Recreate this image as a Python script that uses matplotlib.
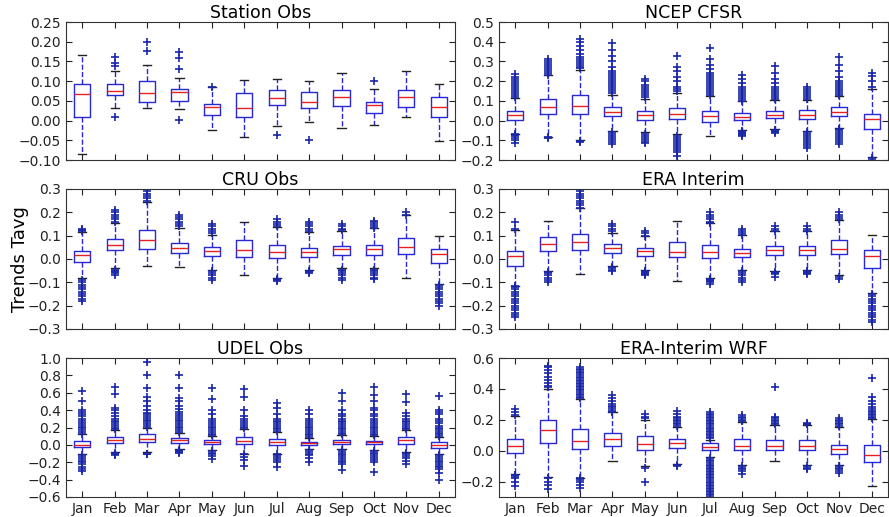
import numpy as np
import matplotlib
matplotlib.use('Agg')
from matplotlib import pyplot as plt

months = ['Jan', 'Feb', 'Mar', 'Apr', 'May', 'Jun', 'Jul', 'Aug', 'Sep', 'Oct', 'Nov', 'Dec']

# Station Obs
station_med = [0.067, 0.076, 0.071, 0.073, 0.035, 0.031, 0.056, 0.047, 0.059, 0.039, 0.059, 0.035]
station_q1 = [0.008, 0.064, 0.048, 0.050, 0.014, 0.008, 0.039, 0.031, 0.036, 0.018, 0.034, 0.010]
station_q3 = [0.093, 0.092, 0.100, 0.081, 0.043, 0.069, 0.077, 0.073, 0.078, 0.047, 0.078, 0.059]
station_lo = [-0.086, 0.031, 0.031, 0.029, -0.024, -0.042, -0.013, -0.003, -0.019, -0.011, 0.009, -0.052]
station_hi = [0.166, 0.126, 0.141, 0.108, 0.084, 0.103, 0.105, 0.100, 0.121, 0.080, 0.125, 0.094]
station_fl = [[], [0.162, 0.145, 0.139, 0.008], [0.2, 0.177], [0.175, 0.158, 0.13, 0.002],
              [0.086], [], [-0.036], [-0.049], [], [0.1], [], []]

# NCEP CFSR
ncep_med = [0.029, 0.067, 0.072, 0.044, 0.027, 0.035, 0.022, 0.020, 0.030, 0.030, 0.044, 0.008]
ncep_q1 = [0.005, 0.034, 0.034, 0.022, 0.005, 0.008, -0.008, 0.005, 0.013, 0.008, 0.022, -0.045]
ncep_q3 = [0.050, 0.110, 0.128, 0.067, 0.047, 0.064, 0.047, 0.039, 0.049, 0.052, 0.069, 0.035]
ncep_lo = [-0.066, -0.082, -0.100, -0.054, -0.060, -0.070, -0.079, -0.050, -0.042, -0.054, -0.037, -0.185]
ncep_hi = [0.114, 0.230, 0.258, 0.130, 0.110, 0.140, 0.123, 0.098, 0.106, 0.106, 0.123, 0.160]
ncep_fl = [
    [0.12, 0.13, 0.14, 0.15, 0.16, 0.17, 0.18, 0.19, 0.20, 0.21, 0.22, 0.235,
     -0.07, -0.075, -0.08, -0.09, -0.1, -0.115],
    [0.23, 0.24, 0.25, 0.26, 0.27, 0.28, 0.29, 0.30, 0.31, -0.085, -0.09],
    [0.265, 0.27, 0.28, 0.29, 0.30, 0.31, 0.32, 0.34, 0.36, 0.38, 0.40, 0.415, -0.105, -0.11],
    [0.14, 0.15, 0.16, 0.17, 0.18, 0.19, 0.20, 0.21, 0.22, 0.23, 0.24, 0.25, 0.27, 0.30, 0.33,
     0.36, 0.395, -0.06, -0.07, -0.08, -0.09, -0.1, -0.11, -0.12],
    [0.12, 0.13, 0.14, 0.15, 0.16, 0.17, 0.18, 0.20, 0.21, -0.07, -0.08, -0.09, -0.1, -0.11, -0.115],
    [0.15, 0.16, 0.17, 0.20, 0.22, 0.25, 0.27, 0.33, -0.08, -0.09, -0.1, -0.11, -0.12, -0.13,
     -0.14, -0.15, -0.16, -0.18],
    [0.13, 0.14, 0.15, 0.16, 0.17, 0.18, 0.19, 0.20, 0.21, 0.22, 0.23, 0.24, 0.26, 0.28, 0.31, 0.37],
    [0.10, 0.11, 0.12, 0.13, 0.14, 0.15, 0.16, 0.17, 0.19, 0.21, 0.23,
     -0.055, -0.06, -0.065, -0.07, -0.075, -0.08],
    [0.11, 0.12, 0.13, 0.14, 0.15, 0.16, 0.17, 0.19, 0.21, 0.24, 0.275, -0.05, -0.055, -0.06, -0.065],
    [0.11, 0.12, 0.13, 0.14, 0.15, 0.16, 0.17, -0.06, -0.07, -0.08, -0.09, -0.1, -0.11, -0.12,
     -0.13, -0.14],
    [0.13, 0.14, 0.15, 0.16, 0.17, 0.18, 0.19, 0.20, 0.22, 0.25, 0.28, 0.32,
     -0.045, -0.05, -0.06, -0.07, -0.08, -0.09, -0.1, -0.11, -0.12],
    [0.17, 0.2, 0.225, 0.24, -0.19, -0.2],
]

# CRU Obs
cru_med = [0.017, 0.060, 0.081, 0.049, 0.036, 0.039, 0.031, 0.030, 0.041, 0.041, 0.050, 0.020]
cru_q1 = [-0.011, 0.039, 0.041, 0.024, 0.013, 0.010, 0.006, 0.010, 0.017, 0.017, 0.020, -0.016]
cru_q3 = [0.036, 0.084, 0.124, 0.070, 0.053, 0.081, 0.060, 0.049, 0.057, 0.060, 0.089, 0.041]
cru_lo = [-0.083, -0.040, -0.030, -0.033, -0.047, -0.069, -0.083, -0.047, -0.040, -0.040, -0.083, -0.107]
cru_hi = [0.117, 0.153, 0.245, 0.131, 0.103, 0.160, 0.139, 0.117, 0.121, 0.131, 0.189, 0.100]
cru_fl = [
    [0.12, 0.125, 0.13, -0.09, -0.1, -0.11, -0.12, -0.13, -0.14, -0.15, -0.16, -0.17, -0.18],
    [0.16, 0.17, 0.18, 0.19, 0.20, 0.21, -0.045, -0.05, -0.055, -0.06, -0.07],
    [0.25, 0.26, 0.27, 0.28, 0.29, 0.30],
    [0.14, 0.15, 0.16, 0.17, 0.18, 0.19],
    [0.11, 0.12, 0.13, 0.14, 0.15, -0.05, -0.06, -0.07, -0.08, -0.09],
    [],
    [0.14, 0.15, 0.16, 0.17, -0.085, -0.09, -0.095],
    [0.12, 0.13, 0.14, 0.15, 0.16, -0.05, -0.055, -0.06],
    [0.125, 0.13, 0.14, 0.15, -0.045, -0.05, -0.06, -0.07, -0.08, -0.09],
    [0.135, 0.14, 0.15, 0.16, 0.165, -0.045, -0.05, -0.06, -0.07, -0.08, -0.085],
    [0.19, 0.2],
    [-0.11, -0.12, -0.13, -0.14, -0.15, -0.16, -0.17, -0.18, -0.19, -0.2],
]

# ERA Interim
era_med = [0.014, 0.064, 0.071, 0.046, 0.033, 0.029, 0.029, 0.026, 0.040, 0.037, 0.043, 0.014]
era_q1 = [-0.029, 0.033, 0.037, 0.026, 0.011, 0.007, 0.004, 0.009, 0.016, 0.016, 0.021, -0.039]
era_q3 = [0.036, 0.093, 0.109, 0.064, 0.047, 0.071, 0.061, 0.044, 0.057, 0.057, 0.083, 0.040]
era_lo = [-0.114, -0.053, -0.064, -0.031, -0.046, -0.096, -0.081, -0.046, -0.053, -0.046, -0.067, -0.146]
era_hi = [0.126, 0.161, 0.219, 0.111, 0.097, 0.161, 0.154, 0.104, 0.119, 0.119, 0.169, 0.104]
era_fl = [
    [0.13, 0.16, -0.115, -0.12, -0.13, -0.14, -0.15, -0.16, -0.17, -0.18, -0.19, -0.2, -0.21,
     -0.22, -0.23, -0.24, -0.25],
    [-0.055, -0.06, -0.07, -0.08, -0.09, -0.1],
    [0.22, 0.23, 0.24, 0.25, 0.26, 0.27, 0.28, 0.29, 0.30],
    [0.12, 0.13, 0.14, 0.15, -0.035, -0.04, -0.045, -0.05],
    [0.10, 0.11, 0.12, -0.05, -0.055, -0.06, -0.065, -0.07],
    [],
    [0.155, 0.16, 0.17, 0.18, 0.19, 0.2, -0.085, -0.09, -0.095, -0.1, -0.105],
    [0.105, 0.11, 0.12, 0.13, -0.05, -0.06, -0.07, -0.08, -0.09, -0.1],
    [0.12, 0.13, 0.14, -0.055, -0.06, -0.065, -0.075],
    [0.12, 0.13, 0.14, -0.05, -0.055, -0.06, -0.065],
    [0.17, 0.18, 0.19, 0.2, -0.075, -0.085],
    [-0.15, -0.16, -0.17, -0.18, -0.19, -0.2, -0.21, -0.22, -0.23, -0.24, -0.25, -0.26, -0.27],
]

# UDEL Obs
udel_med = [0.000, 0.054, 0.073, 0.054, 0.038, 0.046, 0.035, 0.023, 0.035, 0.031, 0.054, 0.000]
udel_q1 = [-0.030, 0.023, 0.035, 0.023, 0.012, 0.015, 0.000, 0.004, 0.012, 0.012, 0.015, -0.038]
udel_q3 = [0.042, 0.085, 0.120, 0.080, 0.058, 0.088, 0.065, 0.038, 0.054, 0.050, 0.085, 0.038]
udel_lo = [-0.11, -0.085, -0.08, -0.05, -0.06, -0.10, -0.10, -0.05, -0.05, -0.06, -0.08, -0.11]
udel_hi = [0.12, 0.17, 0.20, 0.14, 0.10, 0.18, 0.15, 0.08, 0.11, 0.10, 0.17, 0.09]
udel_fl = [
    [0.13, 0.15, 0.17, 0.19, 0.21, 0.23, 0.25, 0.27, 0.3, 0.33, 0.36, 0.38, 0.4, 0.51, 0.62,
     -0.12, -0.14, -0.16, -0.18, -0.2, -0.22, -0.25, -0.28, -0.3],
    [0.18, 0.2, 0.22, 0.24, 0.26, 0.28, 0.3, 0.33, 0.37, 0.4, 0.43, 0.58, 0.67, -0.09, -0.1, -0.12],
    [0.21, 0.23, 0.25, 0.27, 0.29, 0.31, 0.33, 0.35, 0.37, 0.4, 0.45, 0.5, 0.55, 0.65, 0.8, 0.95,
     -0.1, -0.11],
    [0.15, 0.17, 0.19, 0.21, 0.23, 0.25, 0.27, 0.29, 0.31, 0.33, 0.35, 0.38, 0.41, 0.45, 0.5,
     0.54, 0.65, 0.8, -0.06, -0.07, -0.08, -0.09],
    [0.11, 0.13, 0.15, 0.17, 0.19, 0.21, 0.23, 0.25, 0.28, 0.3, 0.35, 0.4, 0.53, 0.66,
     -0.07, -0.09, -0.11, -0.13, -0.16],
    [0.19, 0.21, 0.23, 0.25, 0.27, 0.3, 0.33, 0.4, 0.55, 0.64, -0.11, -0.14, -0.17, -0.24],
    [0.16, 0.18, 0.2, 0.22, 0.24, 0.26, 0.28, 0.3, 0.35, 0.42, 0.48,
     -0.11, -0.13, -0.15, -0.17, -0.2, -0.25],
    [0.09, 0.11, 0.13, 0.15, 0.17, 0.19, 0.21, 0.23, 0.25, 0.27, 0.3, 0.35, 0.4,
     -0.06, -0.08, -0.1, -0.12, -0.15, -0.2],
    [0.12, 0.14, 0.16, 0.18, 0.2, 0.22, 0.24, 0.26, 0.28, 0.3, 0.33, 0.35, 0.4, 0.5, 0.6,
     -0.06, -0.08, -0.1, -0.12, -0.14, -0.16, -0.18, -0.2, -0.22, -0.29],
    [0.11, 0.13, 0.15, 0.17, 0.19, 0.21, 0.23, 0.25, 0.27, 0.3, 0.33, 0.36, 0.4, 0.42, 0.5, 0.57,
     0.67, -0.07, -0.09, -0.11, -0.13, -0.15, -0.17, -0.2, -0.31],
    [0.18, 0.2, 0.22, 0.24, 0.26, 0.28, 0.3, 0.33, 0.37, 0.49, 0.59,
     -0.09, -0.11, -0.13, -0.15, -0.18, -0.22],
    [0.1, 0.12, 0.14, 0.16, 0.18, 0.2, 0.22, 0.25, 0.28, 0.3, 0.35, 0.38, 0.4, 0.56,
     -0.12, -0.14, -0.16, -0.18, -0.2, -0.22, -0.24, -0.26, -0.28, -0.32, -0.4],
]

# ERA-Interim WRF
wrf_med = [0.030, 0.132, 0.065, 0.078, 0.041, 0.052, 0.026, 0.030, 0.030, 0.028, 0.011, -0.030]
wrf_q1 = [-0.015, 0.052, 0.009, 0.028, 0.002, 0.017, 0.002, 0.002, 0.006, 0.002, -0.019, -0.074]
wrf_q3 = [0.078, 0.197, 0.138, 0.115, 0.093, 0.074, 0.048, 0.074, 0.067, 0.067, 0.035, 0.039]
wrf_lo = [-0.149, -0.171, -0.177, -0.067, -0.102, -0.084, -0.040, -0.091, -0.069, -0.095, -0.095, -0.229]
wrf_hi = [0.223, 0.402, 0.333, 0.249, 0.200, 0.154, 0.070, 0.186, 0.164, 0.164, 0.154, 0.208]
wrf_fl = [
    [0.23, 0.25, 0.27, -0.155, -0.16, -0.17, -0.18, -0.2, -0.23],
    [0.41, 0.42, 0.44, 0.46, 0.48, 0.5, 0.52, 0.54, 0.55, -0.18, -0.2, -0.22, -0.25],
    [0.34, 0.35, 0.36, 0.37, 0.38, 0.39, 0.4, 0.41, 0.42, 0.43, 0.44, 0.45, 0.46, 0.47, 0.48,
     0.49, 0.5, 0.51, 0.52, 0.53, 0.54, -0.18, -0.19, -0.2, -0.22, -0.24],
    [0.25, 0.26, 0.27, 0.28, 0.29, 0.3, 0.32, 0.34, 0.36],
    [0.21, 0.22, 0.24, -0.11, -0.2],
    [0.16, 0.17, 0.18, 0.19, 0.2, 0.21, 0.22, 0.24, 0.26, -0.09, -0.1],
    [0.08, 0.09, 0.1, 0.11, 0.12, 0.13, 0.14, 0.15, 0.16, 0.17, 0.18, 0.19, 0.2, 0.21, 0.22,
     0.23, 0.24, 0.25, -0.05, -0.06, -0.07, -0.08, -0.09, -0.1, -0.11, -0.12, -0.13, -0.14,
     -0.15, -0.16, -0.17, -0.18, -0.19, -0.2, -0.21, -0.22, -0.23, -0.24, -0.25, -0.26,
     -0.27, -0.28, -0.29, -0.3],
    [0.19, 0.2, 0.21, 0.22, 0.23, -0.1, -0.11, -0.12, -0.13, -0.15],
    [0.17, 0.18, 0.19, 0.2, 0.21, 0.22, 0.41],
    [0.17, 0.175, 0.18, -0.1, -0.11, -0.12],
    [0.16, 0.17, 0.18, 0.19, 0.2, 0.21, -0.1, -0.11, -0.12, -0.13, -0.145],
    [0.21, 0.22, 0.23, 0.24, 0.25, 0.26, 0.27, 0.28, 0.3, 0.32, 0.35, 0.47],
]

panels = [
    ('Station Obs', station_med, station_q1, station_q3, station_lo, station_hi, station_fl,
     (-0.10, 0.25), np.arange(-0.10, 0.26, 0.05), '%.2f'),
    ('NCEP CFSR', ncep_med, ncep_q1, ncep_q3, ncep_lo, ncep_hi, ncep_fl,
     (-0.2, 0.5), np.arange(-0.2, 0.51, 0.1), '%.1f'),
    ('CRU Obs', cru_med, cru_q1, cru_q3, cru_lo, cru_hi, cru_fl,
     (-0.3, 0.3), np.arange(-0.3, 0.31, 0.1), '%.1f'),
    ('ERA Interim', era_med, era_q1, era_q3, era_lo, era_hi, era_fl,
     (-0.3, 0.3), np.arange(-0.3, 0.31, 0.1), '%.1f'),
    ('UDEL Obs', udel_med, udel_q1, udel_q3, udel_lo, udel_hi, udel_fl,
     (-0.6, 1.0), np.arange(-0.6, 1.01, 0.2), '%.1f'),
    ('ERA-Interim WRF', wrf_med, wrf_q1, wrf_q3, wrf_lo, wrf_hi, wrf_fl,
     (-0.3, 0.6), np.arange(-0.2, 0.61, 0.2), '%.1f'),
]

# axes rectangles in figure fraction (left, bottom, width, height)
lefts = [66 / 889, 499 / 889]
rows = [(22, 160), (189, 329), (358, 497)]

fig = plt.figure(figsize=(8.89, 5.17), dpi=100)

for i, (title, med, q1, q3, lo, hi, fl, ylim, yt, fmt) in enumerate(panels):
    r, c = i // 2, i % 2
    top, bot = rows[r]
    ax = fig.add_axes([lefts[c], 1 - bot / 517, 389 / 889, (bot - top) / 517])
    stats = []
    for k in range(12):
        stats.append(dict(med=med[k], q1=q1[k], q3=q3[k], whislo=lo[k], whishi=hi[k],
                          fliers=np.array(fl[k]), label=months[k]))
    ax.bxp(stats, positions=range(1, 13), widths=0.5,
           boxprops=dict(color='#2828d8', linewidth=1),
           whiskerprops=dict(color='#2828d8', linestyle='--', linewidth=1),
           capprops=dict(color='#222222', linewidth=1),
           medianprops=dict(color='#e82020', linewidth=1),
           flierprops=dict(marker='+', markeredgecolor='#1a26a8', markersize=5.5,
                           markeredgewidth=1.2, linestyle='none'))
    ax.set_xlim(0.5, 12.5)
    ax.set_ylim(*ylim)
    ax.set_yticks(yt)
    ax.set_yticklabels([(fmt % v).replace('-', '\u2212') for v in yt])
    ax.set_xticks(range(1, 13))
    if r == 2:
        ax.set_xticklabels(months)
    else:
        ax.set_xticklabels([])
    ax.tick_params(direction='in', top=True, right=True, labelsize=10, length=4, width=0.8,
                   colors='#222222')
    ax.set_title(title, fontsize=12.5, pad=3)
    for s in ax.spines.values():
        s.set_color('#333333')

fig.text(0.022, 1 - 259 / 517, 'Trends Tavg', rotation=90, fontsize=13,
         ha='center', va='center')

fig.savefig('out.png', dpi=100)
